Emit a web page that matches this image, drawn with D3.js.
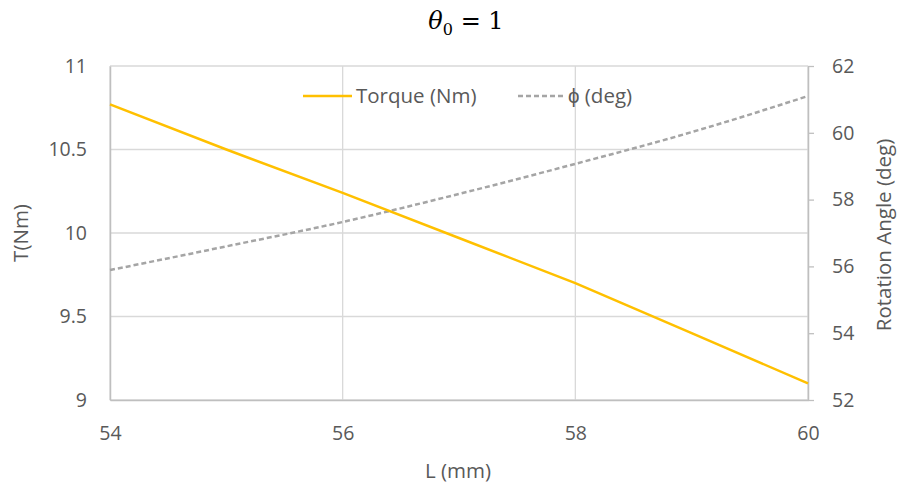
<!DOCTYPE html>
<html>
<head>
<meta charset="utf-8">
<script src="https://cdn.jsdelivr.net/npm/d3@7"></script>
<style>
  body { margin: 0; background: #fff; }
  svg text { font-family: "Open Sans", "Liberation Sans", sans-serif; fill: #595959; }
</style>
</head>
<body>
<svg id="chart" width="899" height="489"></svg>
<script>
// values
const lengths = [54, 55, 56, 57, 58, 59, 60];
const torque = [10.77, 10.50, 10.24, 9.97, 9.70, 9.40, 9.10];
const phi = [55.89, 56.6, 57.33, 58.17, 59.07, 60.02, 61.1];
const xTicks = [54, 56, 58, 60];
const leftTicks = [9, 9.5, 10, 10.5, 11];
const rightTicks = [52, 54, 56, 58, 60, 62];

const svg = d3.select("#chart");
const plotLeft = 110, plotRight = 808, plotTop = 66, plotBottom = 400;

const x = d3.scaleLinear().domain([54, 60]).range([plotLeft, plotRight]);
const yL = d3.scaleLinear().domain([9, 11]).range([plotBottom, plotTop]);
const yR = d3.scaleLinear().domain([52, 62]).range([plotBottom, plotTop]);

// grid
svg.append("g")
    .selectAll("line")
    .data(leftTicks)
    .enter()
    .append("line")
    .attr("x1", plotLeft).attr("x2", plotRight)
    .attr("y1", d => yL(d)).attr("y2", d => yL(d))
    .attr("stroke", "#d9d9d9").attr("stroke-width", 1.3);

svg.append("g")
    .selectAll("line")
    .data(xTicks)
    .enter()
    .append("line")
    .attr("x1", d => x(d)).attr("x2", d => x(d))
    .attr("y1", plotTop).attr("y2", plotBottom)
    .attr("stroke", "#d9d9d9").attr("stroke-width", 1.3);

// axes
const xAxis = svg.append("g")
    .attr("transform", `translate(0,${plotBottom})`)
    .call(d3.axisBottom(x).tickValues(xTicks).tickSize(0).tickPadding(26).tickFormat(d3.format("")));
xAxis.select(".domain").attr("stroke", "#bfbfbf").attr("stroke-width", 1.5);

const leftAxis = svg.append("g")
    .attr("transform", `translate(${plotLeft},0)`)
    .call(d3.axisLeft(yL).tickValues(leftTicks).tickSize(0).tickPadding(23).tickFormat(d3.format("")));
leftAxis.select(".domain").attr("stroke", "#bfbfbf").attr("stroke-width", 1.5);

const rightAxis = svg.append("g")
    .attr("transform", `translate(${plotRight},0)`)
    .call(d3.axisRight(yR).tickValues(rightTicks).tickSizeInner(6).tickSizeOuter(0).tickPadding(18));
rightAxis.select(".domain").attr("stroke", "#bfbfbf").attr("stroke-width", 1.5);
rightAxis.selectAll(".tick line").attr("stroke", "#bfbfbf").attr("stroke-width", 1.3);

svg.selectAll(".tick text").style("font-size", "19.5px").attr("fill", "#595959");

// lines
const torqueLine = d3.line().x((d, i) => x(lengths[i])).y(d => yL(d));
const phiLine = d3.line().x((d, i) => x(lengths[i])).y(d => yR(d)).curve(d3.curveMonotoneX);

svg.append("path")
    .datum(phi)
    .attr("d", phiLine)
    .attr("fill", "none")
    .attr("stroke", "#a5a5a5")
    .attr("stroke-width", 2.5)
    .attr("stroke-dasharray", "5,3");

svg.append("path")
    .datum(torque)
    .attr("d", torqueLine)
    .attr("fill", "none")
    .attr("stroke", "#ffc000")
    .attr("stroke-width", 2.5);

// legend
const legend = svg.append("g");
legend.append("line")
    .attr("x1", 303).attr("x2", 352).attr("y1", 96).attr("y2", 96)
    .attr("stroke", "#ffc000").attr("stroke-width", 2.5);
legend.append("text")
    .attr("x", 356).attr("y", 103)
    .style("font-size", "20.5px")
    .text("Torque (Nm)");
legend.append("line")
    .attr("x1", 518).attr("x2", 566).attr("y1", 96).attr("y2", 96)
    .attr("stroke", "#a5a5a5").attr("stroke-width", 2.5)
    .attr("stroke-dasharray", "5,3");
legend.append("text")
    .attr("x", 568).attr("y", 103)
    .style("font-size", "20.5px")
    .text("ϕ (deg)");

// title
const title = svg.append("text")
    .attr("x", 466).attr("y", 29)
    .attr("text-anchor", "middle")
    .style("font-family", "'DejaVu Serif', serif")
    .style("font-size", "24px")
    .attr("fill", "#000");
title.append("tspan").style("font-style", "italic").attr("fill", "#000").text("θ");
title.append("tspan").attr("dy", 6).style("font-size", "16px").attr("fill", "#000").text("0");
title.append("tspan").attr("dy", -6).attr("fill", "#000").text(" = 1");

// axis titles
svg.append("text")
    .attr("x", 458).attr("y", 478)
    .attr("text-anchor", "middle")
    .style("font-size", "20.5px")
    .text("L (mm)");

svg.append("text")
    .attr("transform", "translate(28,233) rotate(-90)")
    .attr("text-anchor", "middle")
    .style("font-size", "20.5px")
    .text("T(Nm)");

svg.append("text")
    .attr("transform", "translate(891,235) rotate(-90)")
    .attr("text-anchor", "middle")
    .style("font-size", "20.5px")
    .text("Rotation Angle (deg)");
</script>
</body>
</html>
